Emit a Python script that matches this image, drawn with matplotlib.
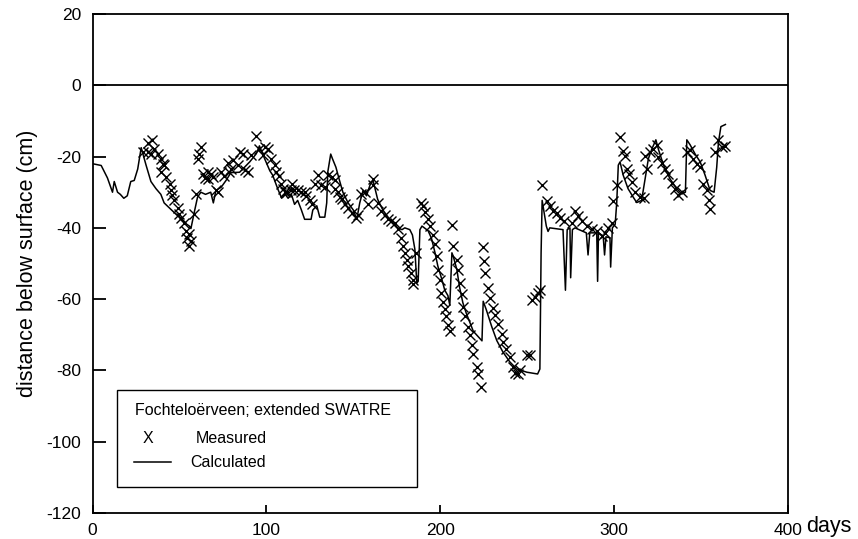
import matplotlib
matplotlib.use("Agg")
import matplotlib.pyplot as plt
from matplotlib.patches import Rectangle

plt.rcParams['font.family'] = ['Liberation Sans', 'DejaVu Sans']
plt.rcParams['axes.unicode_minus'] = False

# calculated groundwater level (days, cm)
calc_day = [0, 5, 8.6, 11.5, 12.5, 14.4, 16, 18, 20, 22, 24, 26, 28, 30.8, 33.6, 36.5,
            39.3, 41.2, 44, 47, 50, 52.8, 55.7, 56.6, 58.5, 60.4, 62.3, 65, 68, 69.5, 71,
            74, 76.8, 79.6, 84.6, 90.4, 94.2, 96, 99, 102, 103.6, 106.5, 108.8, 110.7,
            112.5, 114.4, 116.2, 118, 120, 122, 125.7, 126.7, 129, 130.7, 133.6, 134.7,
            135.3, 137, 138, 140, 142, 144, 147, 150, 152, 153.7, 155.6, 157.6, 159.6,
            161.3, 162, 164, 167, 170, 172.7, 175.5, 178, 179.6, 182.5, 184, 185.4, 186.5,
            187.3, 188.3, 189.5, 193, 195, 197, 198.6, 201, 202.6, 204.4, 205.5, 206.7,
            207.5, 209.6, 211, 213, 215, 219, 224, 224.7, 226.5, 229.6, 232.5, 236, 240,
            244, 249.8, 256, 257.3, 258, 258.6, 261, 262, 263, 270.6, 272, 273, 274.6,
            275, 276, 277.5, 284, 285, 286, 290, 290.5, 291, 293.7, 294.5, 295.3, 297.6,
            298, 299, 300.6, 301.5, 302.4, 303.4, 305.2, 308, 311, 313, 315.8, 317.8,
            319.7, 321.6, 324, 325.5, 328.4, 332.2, 336, 339, 341, 341.8, 343.7, 346.6,
            349.5, 352.3, 355.2, 357.5, 359, 360, 361.4, 364]
calc_depth = [-22, -22.5, -26, -30, -27, -30, -30.6, -31.7, -31, -27, -26.7, -23.5, -17.5,
              -22.4, -27, -29, -30.6, -33, -34.3, -35.7, -37.1, -38.5, -39.5, -40.2, -35.7,
              -31.4, -30, -30.6, -30, -33, -29.5, -28.6, -26.7, -24.5, -24.4, -21.5, -19.2,
              -17, -20.6, -24, -25.2, -29, -31.7, -30.5, -31.7, -30.6, -33.4, -32.3, -34.8,
              -37.6, -37.6, -35, -33.8, -37, -37, -33, -24.4, -19.3, -20.6, -23, -26.6, -30,
              -33, -35, -37.6, -33, -29.5, -31, -28, -26.7, -28, -32, -35, -37, -38.5, -40,
              -40.5, -40, -40.5, -42, -46, -55.5, -55, -40.5, -39.5, -40.8, -43, -47, -50.7,
              -54.6, -57.5, -59, -61.7, -47, -48, -51.8, -56.4, -61, -64, -69, -71.7, -60.6,
              -63, -67.7, -71.6, -74.8, -77.6, -79.6, -80.5, -81, -79.6, -47, -32.3, -39.5,
              -41, -40, -40.5, -57.5, -40.5, -40, -54, -40.5, -40, -41.4, -47.6, -41.4,
              -41.4, -55, -41.5, -42.2, -47.6, -42.5, -42.8, -51, -40, -39, -32.9, -22.4,
              -21.5, -25.2, -29, -31.4, -32.9, -32.3, -26.3, -20.6, -18, -15.3, -18, -22.4,
              -26.3, -29, -30.5, -30, -15.3, -16.7, -19.3, -21.5, -25.2, -29.5, -30, -23,
              -16, -11.6, -11]

# measured groundwater level (days, cm)
meas_day = [28.8, 31.7, 31.7, 33.4, 34.5, 35.5, 37.4, 39.2, 40.3, 41, 39.2, 42, 44.3, 45,
            46, 47, 49, 50, 50.7, 52.8, 53.6, 54.5, 55.7, 56.6, 55.7, 58.5, 59.5, 60.5,
            61.4, 62.2, 63.3, 64.5, 66.2, 66.2, 68.1, 69.1, 71, 72, 73.7, 75.6, 77.7,
            78.6, 79.8, 81, 83.5, 84.6, 86.5, 87.5, 89.2, 91.3, 94.2, 96, 98, 99, 100.7,
            102.8, 104.8, 105.7, 107, 108.6, 109.6, 110.5, 112, 114, 115, 116, 118, 120,
            122, 123, 125, 126, 127.8, 129.6, 131.7, 133.6, 135.3, 137.5, 139.3, 139.3,
            141, 142.2, 143.5, 145, 146.8, 149, 151.8, 152.6, 154.7, 156.6, 158.4, 161.2,
            161.2, 164, 166.2, 168, 169.8, 171.7, 173.9, 175.8, 177.7, 178.7, 179.6,
            180.6, 181.6, 183.4, 184.4, 184.4, 186.3, 189.2, 190, 191.1, 193, 194, 196,
            197, 198, 198.8, 199.7, 200.7, 201.7, 202.6, 203.5, 204.6, 205.6, 206.5,
            207.4, 209.4, 210.3, 211.3, 212.3, 213, 214, 216, 217, 218, 219, 221, 221.8,
            223.7, 224.3, 225, 225.7, 227.6, 228.6, 230.5, 231.5, 233.3, 235.3, 236.2,
            238, 240, 242, 243, 244.8, 246, 249.7, 251.6, 252.6, 254.5, 256.4, 257.3,
            258.3, 261.2, 263.1, 265, 267, 269, 271, 275.5, 277.5, 279.4, 281.3, 284.2,
            287, 290, 292.8, 294.5, 296.7, 298.5, 299.6, 301.5, 303.4, 305.3, 306.2,
            307.2, 308.5, 310, 312, 315, 317, 317.8, 318.8, 320.6, 322.5, 324.4, 325.5,
            327.4, 329.3, 331.2, 333.2, 335, 337, 339, 341.8, 343.7, 345.6, 347.6, 349.5,
            351.4, 353.4, 354.4, 355.3, 358, 360, 362, 364]
meas_depth = [-18.7, -16.3, -18.7, -19.2, -15.3, -17.8, -19.2, -20.6, -22, -22.5, -24.4,
              -25.8, -27.6, -29.5, -30.9, -32.3, -34.3, -36.2, -37.1, -38.5, -40.8, -42.8,
              -41.8, -43.6, -45, -36.2, -30.5, -20.6, -19.3, -17.3, -24.8, -26, -24.4,
              -26.3, -24.8, -25.8, -29.5, -29.9, -24.4, -25.4, -21.8, -24.4, -23.4, -21,
              -22.4, -18.8, -19.2, -23.8, -24.4, -19.6, -14.2, -17.8, -19.6, -17.3, -17.8,
              -20.6, -22.4, -24.4, -25.5, -27.6, -29, -30, -29.8, -29.5, -27.6, -29.5,
              -29.5, -29.8, -30, -31, -32.3, -33.4, -27.6, -25.2, -28.1, -28.6, -25.2,
              -25.8, -26.6, -29, -30, -31.4, -32, -33.4, -34.3, -35.7, -37.1, -36.5, -30.5,
              -29.8, -33.4, -26.3, -28.1, -32.9, -35.2, -36.5, -37.6, -38, -38.5, -40.4,
              -42.8, -45.1, -47, -48.9, -50.8, -52.7, -54.6, -55.7, -47, -33, -34, -35.6,
              -37.6, -39.5, -42, -44.6, -47.9, -51.8, -54.6, -58.4, -60.7, -62.8, -64.6,
              -67.3, -69, -39.3, -45, -48.9, -51.8, -55.5, -58.6, -62.3, -64.6, -67.7, -70,
              -73, -75.4, -79, -81, -84.7, -45.3, -49.3, -52.7, -56.9, -59.8, -62.6, -64.5,
              -66.9, -69.7, -72, -74, -76.3, -79, -80.6, -81, -80, -75.8, -75.8, -60.2,
              -59.3, -58.4, -57.5, -28.1, -32.4, -33.8, -35.2, -35.7, -37.1, -38, -38.5,
              -35.2, -36.6, -38, -39.5, -40.4, -41, -42.2, -41.5, -40, -38.5, -32.4, -28.1,
              -14.6, -18.4, -19.8, -23.6, -25, -27.2, -30, -31.4, -31.7, -19.8, -23.6,
              -18.6, -18, -16.7, -20, -21.8, -23.6, -24.9, -27.4, -29, -30.8, -29.8, -18.6,
              -18.1, -20.6, -22, -23, -27.6, -29.5, -32.3, -34.8, -18.6, -15.3, -17.3, -17]

x_ticks = [0, 100, 200, 300, 400]
y_ticks = [20, 0, -20, -40, -60, -80, -100, -120]

fig = plt.figure(figsize=(8.58, 5.39), dpi=100)
ax = fig.add_axes([92.5 / 858, 1 - 513 / 539, 695.5 / 858, 499 / 539])

ax.plot(calc_day, calc_depth, color='black', linewidth=1.1)
ax.plot(meas_day, meas_depth, linestyle='none', marker='x', color='black',
        markersize=6.5, markeredgewidth=1.0)
ax.axhline(0, color='black', linewidth=1.3)

ax.set_xlim(0, 400)
ax.set_ylim(-120, 20)
ax.set_xticks(x_ticks)
ax.set_yticks(y_ticks)
ax.tick_params(axis='y', direction='in', length=9, width=1.3, labelsize=12.5, pad=8)
ax.tick_params(axis='x', direction='in', length=6, width=1.3, labelsize=12.5, pad=7)
for s in ax.spines.values():
    s.set_linewidth(1.3)

ax.set_ylabel('distance below surface (cm)', fontsize=15.5, labelpad=6)
ax.text(1.026, -0.028, 'days', transform=ax.transAxes, fontsize=15.5,
        ha='left', va='center')

# legend box
ax.add_patch(Rectangle((0.035, 0.052), 0.432, 0.194, transform=ax.transAxes,
                       facecolor='white', edgecolor='black', linewidth=1.0, zorder=5))
ax.text(0.061, 0.206, 'Fochteloërveen; extended SWATRE', transform=ax.transAxes,
        fontsize=11.5, ha='left', va='center', zorder=6)
ax.text(0.080, 0.150, 'X', transform=ax.transAxes, fontsize=11.5,
        ha='center', va='center', zorder=6)
ax.text(0.149, 0.150, 'Measured', transform=ax.transAxes, fontsize=11.5,
        ha='left', va='center', zorder=6)
ax.plot([0.060, 0.113], [0.102, 0.102], transform=ax.transAxes, color='black',
        linewidth=1.1, zorder=6)
ax.text(0.140, 0.102, 'Calculated', transform=ax.transAxes, fontsize=11.5,
        ha='left', va='center', zorder=6)

fig.savefig('out.png', dpi=100)
